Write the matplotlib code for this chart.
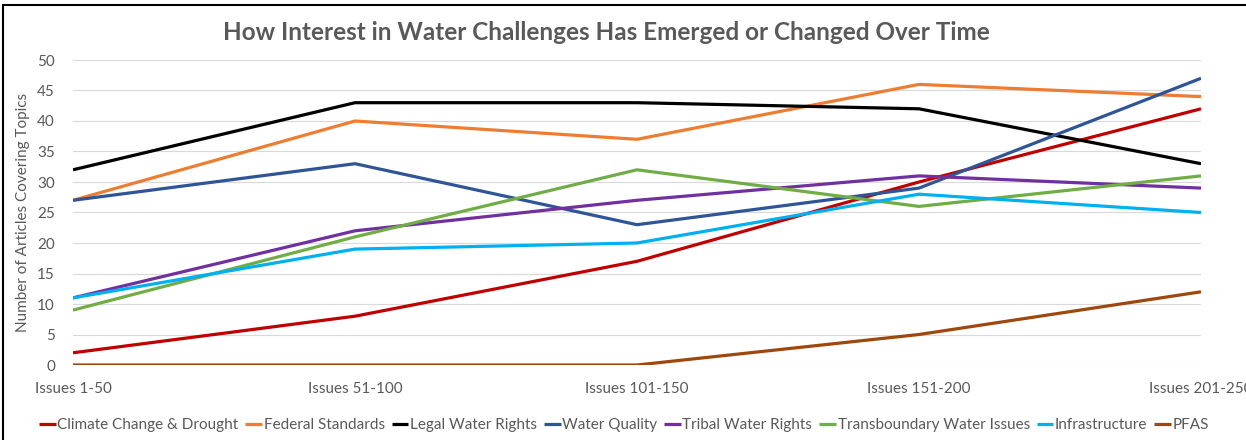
import matplotlib
matplotlib.use('Agg')
import matplotlib.pyplot as plt
from matplotlib.patches import Rectangle

plt.rcParams['font.family'] = ['Lato', 'DejaVu Sans']

issues = ['Issues 1-50', 'Issues 51-100', 'Issues 101-150', 'Issues 151-200', 'Issues 201-250']

climate = [2, 8, 17, 30, 42]
federal = [27, 40, 37, 46, 44]
legal = [32, 43, 43, 42, 33]
quality = [27, 33, 23, 29, 47]
tribal = [11, 22, 27, 31, 29]
transboundary = [9, 21, 32, 26, 31]
infrastructure = [11, 19, 20, 28, 25]
pfas = [0, 0, 0, 5, 12]

series = [
    ('Climate Change & Drought', climate, '#C00000'),
    ('Federal Standards', federal, '#ED7D31'),
    ('Legal Water Rights', legal, '#000000'),
    ('Water Quality', quality, '#2F5597'),
    ('Tribal Water Rights', tribal, '#7030A0'),
    ('Transboundary Water Issues', transboundary, '#70AD47'),
    ('Infrastructure', infrastructure, '#00B0F0'),
    ('PFAS', pfas, '#9E480E'),
]

text_color = '#595959'

fig = plt.figure(figsize=(12.46, 4.4), dpi=100)
ax = fig.add_axes([73 / 1246, 1 - 365 / 440, (1201 - 73) / 1246, (365 - 60) / 440])

x = list(range(len(issues)))
for name, vals, col in series:
    ax.plot(x, vals, color=col, linewidth=2.3, label=name, solid_capstyle='butt')

ax.set_xlim(0, len(issues) - 1)
ax.set_ylim(0, 50)
ax.set_yticks(range(0, 51, 5))
ax.set_xticks(x)
ax.set_xticklabels(issues)
ax.grid(axis='y', color='#d9d9d9', linewidth=0.8)
ax.set_axisbelow(True)
for s in ax.spines.values():
    s.set_visible(False)
ax.tick_params(length=0, colors=text_color, labelsize=11)
ax.tick_params(axis='x', pad=12)
ax.tick_params(axis='y', pad=13)
ax.set_ylabel('Number of Articles Covering Topics', color=text_color, fontsize=11)
ax.yaxis.set_label_coords(-43 / 1128, 0.5)

fig.suptitle('How Interest in Water Challenges Has Emerged or Changed Over Time',
             x=606 / 1246, y=1 - 32 / 440, va='center', fontsize=17.5, fontweight='bold', color=text_color)

fig.legend(loc='center', bbox_to_anchor=(624 / 1246, 1 - 425 / 440), ncol=8, frameon=False,
           fontsize=11, handlelength=1.1, handletextpad=0.1, columnspacing=0.45, labelcolor=text_color)

fig.patches.append(Rectangle((3 / 1246, -0.1), 1.2, 1 - 5 / 440 + 0.1, transform=fig.transFigure,
                             fill=False, edgecolor='black', linewidth=1.5))

fig.savefig('out.png', dpi=100)
